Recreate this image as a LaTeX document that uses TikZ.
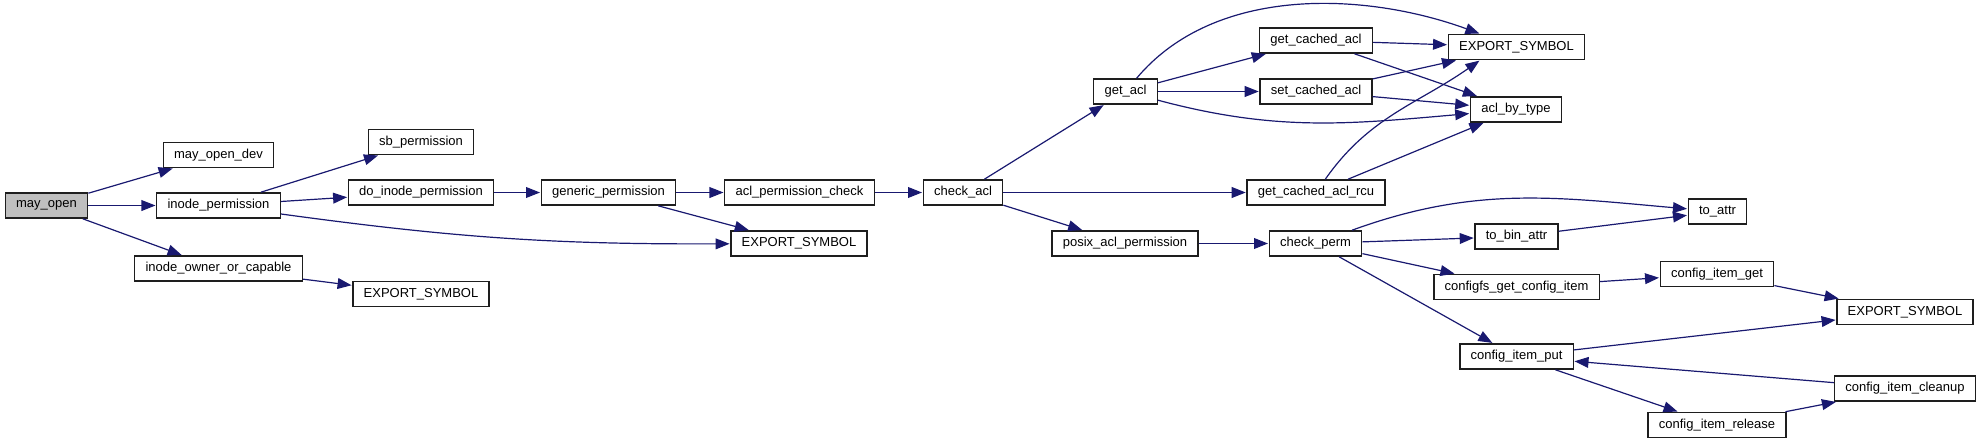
\documentclass[tikz,border=0pt]{standalone}
\usepackage{fontspec}
\setmainfont{Liberation Sans}
\usepackage{tikz}
\usetikzlibrary{arrows.meta}
\usepackage{xcolor}
\definecolor{edgecolor}{RGB}{25,25,112}
\definecolor{rootcolor}{RGB}{191,191,191}
\definecolor{boxcolor}{RGB}{30,30,30}

\begin{document}
\begin{tikzpicture}[x=0.5pt, y=-0.5pt,
    every node/.style={font=\fontsize{6.5}{7.5}\selectfont},
    func/.style={draw=boxcolor, fill=white, line width=0.7pt, inner xsep=5.4pt, inner ysep=0pt, minimum height=12.6pt},
    rootfunc/.style={func, fill=rootcolor},
    callarrow/.style={draw=edgecolor, line width=0.6pt, -{Triangle[length=7pt,width=5.4pt]}, shorten >=0.3pt}]
        \useasboundingbox (0,0) rectangle (1981,445);

        % caller and first level
        \node[rootfunc] (mayopen)    at (46.5,205.5)  {may\_open};
        \node[func] (mayopendev)     at (218.5,155)   {may\_open\_dev};
        \node[func] (inodeperm)      at (218.5,205.5) {inode\_permission};
        \node[func] (inodeowner)     at (218.5,268.5) {inode\_owner\_or\_capable};

        % permission chain
        \node[func] (sbperm)         at (421,142)     {sb\_permission};
        \node[func] (doinodeperm)    at (421,192.5)   {do\_inode\_permission};
        \node[func] (exportA)        at (421,294)     {EXPORT\_SYMBOL};
        \node[func] (genericperm)    at (608.5,192.5) {generic\_permission};
        \node[func] (aclpermcheck)   at (799.5,192.5) {acl\_permission\_check};
        \node[func] (exportB)        at (799,243.5)   {EXPORT\_SYMBOL};
        \node[func] (checkacl)       at (963,192.5)   {check\_acl};

        % acl lookup
        \node[func] (getacl)         at (1125.5,91.5) {get\_acl};
        \node[func] (posixaclperm)   at (1125,243.5)  {posix\_acl\_permission};
        \node[func] (getcachedacl)   at (1316,40.5)   {get\_cached\_acl};
        \node[func] (setcachedacl)   at (1316,91.5)   {set\_cached\_acl};
        \node[func] (getcachedrcu)   at (1316,192.5)  {get\_cached\_acl\_rcu};
        \node[func] (exportC)        at (1516.5,47)   {EXPORT\_SYMBOL};
        \node[func] (aclbytype)      at (1516,109.5)  {acl\_by\_type};

        % configfs side
        \node[func] (checkperm)      at (1315.5,243.5) {check\_perm};
        \node[func] (tobinattr)      at (1516.5,236.5) {to\_bin\_attr};
        \node[func] (cfsgetitem)     at (1516.5,287)   {configfs\_get\_config\_item};
        \node[func] (itemput)        at (1516.5,356.5) {config\_item\_put};
        \node[func] (toattr)         at (1717.5,211.5) {to\_attr};
        \node[func] (itemget)        at (1717,274)     {config\_item\_get};
        \node[func] (itemrelease)    at (1717,425)     {config\_item\_release};
        \node[func] (exportD)        at (1905,312)     {EXPORT\_SYMBOL};
        \node[func] (itemcleanup)    at (1905,388.5)   {config\_item\_cleanup};

        % calls from the left part
        \draw[callarrow] (mayopen) -- (mayopendev);
        \draw[callarrow] (mayopen) -- (inodeperm);
        \draw[callarrow] (mayopen) -- (inodeowner);
        \draw[callarrow] (inodeperm) -- (sbperm);
        \draw[callarrow] (inodeperm) -- (doinodeperm);
        \draw[callarrow] (inodeperm) to[bend right=4] (exportB);
        \draw[callarrow] (inodeowner) -- (exportA);
        \draw[callarrow] (doinodeperm) -- (genericperm);
        \draw[callarrow] (genericperm) -- (aclpermcheck);
        \draw[callarrow] (genericperm) -- (exportB);
        \draw[callarrow] (aclpermcheck) -- (checkacl);

        % check_acl and below
        \draw[callarrow] (checkacl) -- (getacl);
        \draw[callarrow] (checkacl) -- (getcachedrcu);
        \draw[callarrow] (checkacl) -- (posixaclperm);
        \draw[callarrow] (getacl) -- (getcachedacl);
        \draw[callarrow] (getacl) -- (setcachedacl);
        \draw[callarrow] (getacl) to[out=50,in=160,looseness=0.9] (exportC);
        \draw[callarrow] (getacl) to[out=-15,in=185] (aclbytype);
        \draw[callarrow] (getcachedacl) -- (exportC);
        \draw[callarrow] (getcachedacl) -- (aclbytype);
        \draw[callarrow] (setcachedacl) -- (exportC);
        \draw[callarrow] (setcachedacl) -- (aclbytype);
        \draw[callarrow] (getcachedrcu) to[out=55,in=215] (exportC.200);
        \draw[callarrow] (getcachedrcu) -- (aclbytype);

        % posix_acl_permission and below
        \draw[callarrow] (posixaclperm) -- (checkperm);
        \draw[callarrow] (checkperm) to[out=20,in=175] (toattr);
        \draw[callarrow] (checkperm) -- (tobinattr);
        \draw[callarrow] (tobinattr) -- (toattr);
        \draw[callarrow] (checkperm) -- (cfsgetitem);
        \draw[callarrow] (checkperm) -- (itemput);
        \draw[callarrow] (cfsgetitem) -- (itemget);
        \draw[callarrow] (itemget) -- (exportD);
        \draw[callarrow] (itemput) -- (exportD);
        \draw[callarrow] (itemput) -- (itemrelease);
        \draw[callarrow] (itemrelease) -- (itemcleanup);
        \draw[callarrow] (itemcleanup) -- (itemput);
      \end{tikzpicture}
\end{document}
